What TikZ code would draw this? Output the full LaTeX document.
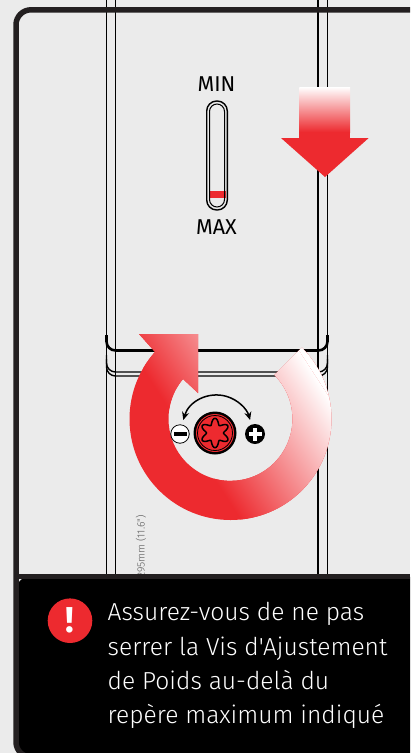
\documentclass[tikz,border=0pt]{standalone}
\usepackage{fontspec}
\usepackage{xcolor}
\setmainfont{Fira Sans}[UprightFont=* Light, Ligatures=TeXOff]
\newfontfamily\labelfont{Fira Sans}
\usepackage{tikz}
\usetikzlibrary{arrows.meta, positioning, calc, shapes}
\definecolor{signalred}{HTML}{ED2A2F}
\definecolor{paneltone}{HTML}{EBEBEB}
\definecolor{frametone}{HTML}{231F20}
\begin{document}
\begin{tikzpicture}[
    x=1pt, y=-1pt,
    casing/.style={draw=black, line width=1.4pt},
    casingbold/.style={draw=black, line width=2.6pt},
    scalelabel/.style={inner sep=0pt, font=\labelfont\fontsize{21.5}{21.5}\selectfont},
    bitdisc/.style={circle, inner sep=0pt, minimum size=#1}
]
    \clip (0,0) rectangle (410,753);
    \fill[paneltone] (0,0) rectangle (410,753);

    \draw[casing] (115.5,0) -- (115.5,576);
    \draw[casing] (318,0) -- (318,576);
    \draw[casing, line width=1.7pt] (106.5,0) -- (106.5,576);
    \draw[casing, line width=1.7pt] (327.5,0) -- (327.5,576);
    \draw[casingbold, rounded corners=9pt] (106.5,335) -- (106.5,350.5) -- (327.5,350.5) -- (327.5,335);
    \draw[casing, rounded corners=9pt] (106.5,355) -- (106.5,372) -- (327.5,372) -- (327.5,355);
    \draw[casing, rounded corners=9pt] (106.5,359) -- (106.5,376) -- (327.5,376) -- (327.5,359);

    \node[rotate=90, anchor=east, inner sep=0pt, text=black!65, font=\fontsize{10.5}{11}\selectfont] (lengthnote) at (141,515) {295mm (11.6")};

    \node[scalelabel] (minlabel) at (216.5,84.5) {MIN};
    \node[scalelabel] (maxlabel) at (216.5,227.5) {MAX};
    \fill[signalred] (208.5,191) rectangle (225.5,197.7);
    \draw[casing, rounded corners=10pt] (206.7,101) rectangle (227.3,210);
    \draw[casing, line width=1pt, rounded corners=7.5pt] (209.5,104) rectangle (224.5,207);

    \shade[top color=white, bottom color=signalred] (299.3,87) rectangle (350,132);
    \fill[signalred] (299.3,131.5) rectangle (350,138.5);
    \fill[signalred] (281,138) -- (368.7,138) -- (325,177) -- cycle;

    \coordinate (ringcentre) at (230.5,419);
    \begin{scope}
        \path[clip] ($(ringcentre)+(-45:101)$) arc[start angle=-45, end angle=221.6, radius=101]
            -- (139,334) -- (198,334) -- (198,393) -- (183,379)
            arc[start angle=220, end angle=-45, radius=62] -- cycle;
        \fill[signalred] (100,300) rectangle (350,540);
        \shade[transform canvas={rotate around={33:(150,380)}}, left color=signalred, right color=white]
            (150,80) rectangle (291,680);
        \fill[white, transform canvas={rotate around={33:(150,380)}}] (291,80) rectangle (400,680);
    \end{scope}

    \coordinate (turnstart) at (183.3,420);
    \draw[{Stealth[length=8pt,width=7pt]}-{Stealth[length=8pt,width=7pt]}, line width=1.5pt, black]
        (turnstart) arc[start angle=196.3, end angle=343.7, radius=34.8];

    \node[bitdisc=43pt, fill=black] (screwhead) at (215,433) {};
    \node[bitdisc=38pt, fill=signalred] at (screwhead) {};
    \node[bitdisc=35pt, draw=black, line width=0.8pt] at (screwhead) {};
    \draw[black, fill=signalred, line width=1.5pt, shift={(215,433)}]
        plot[domain=0:355, samples=72, smooth cycle] ({(11.6+3.1*cos(6*\x+540))*cos(\x)},{(11.6+3.1*cos(6*\x+540))*sin(\x)});

    \node[bitdisc=18.5pt, draw=black, fill=white, line width=0.8pt] (minusmark) at (180,434) {};
    \fill[black] ($(minusmark)+(-6.5,-1.8)$) rectangle ($(minusmark)+(6.5,1.8)$);
    \node[bitdisc=20pt, fill=black] (plusmark) at (255,434) {};
    \fill[white] ($(plusmark)+(-6.5,-1.8)$) rectangle ($(plusmark)+(6.5,1.8)$);
    \fill[white] ($(plusmark)+(-1.8,-6.5)$) rectangle ($(plusmark)+(1.8,6.5)$);

    \fill[black, rounded corners=15pt] (16,576) -- (16,755) -- (420,755) -- (420,576) -- cycle;
    \draw[frametone, line width=5.5pt, rounded corners=15pt] (420,9.8) -- (16,9.8) -- (16,757) -- (60,757);
    \draw[frametone, line width=5pt] (16,576.5) -- (410,576.5);

    \node[circle, fill=signalred, minimum size=44.6pt, inner sep=0pt, text=white, font=\labelfont\fontsize{36}{36}\selectfont\bfseries] (warnmark) at (70,620.7) {!};
    \node[right=15pt of warnmark, anchor=west, text=white, align=left, inner sep=0pt, yshift=-45pt, font=\fontsize{24.6}{34.4}\selectfont] (warntext) {Assurez-vous de ne pas\\serrer la Vis d'Ajustement\\de Poids au-delà du\\repère maximum indiqué};
\end{tikzpicture}
\end{document}
